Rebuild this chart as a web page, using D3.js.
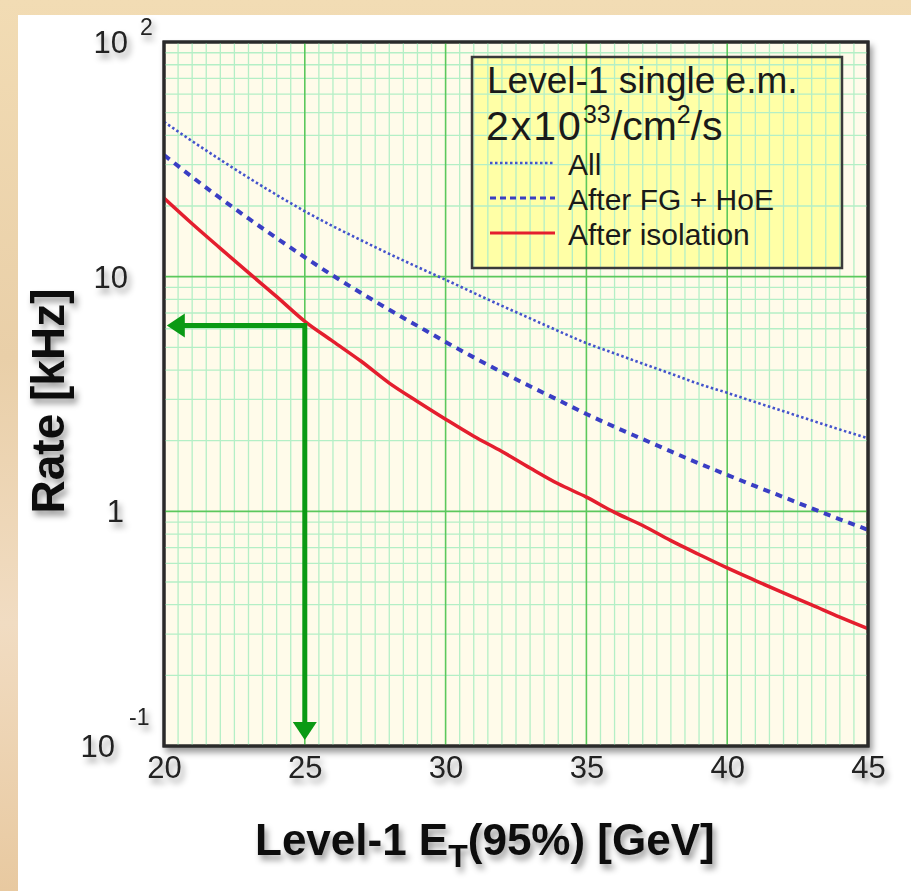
<html>
  <head>
    <meta charset="utf-8" />
    <script src="https://d3js.org/d3.v7.min.js"></script>
    <style>
      body { margin: 0; background: #efd9b6; }
      svg { display: block; }
    </style>
  </head>
  <body>
    <div class="container"></div>
  </body>
</html>

<script>
  // Level-1 ET threshold [GeV]
  const et = [20, 21, 22, 23, 24, 25, 26, 27, 28, 29, 30, 31, 32, 33, 34, 35,
              36, 37, 38, 39, 40, 41, 42, 43, 44, 45];

  // rates [kHz]
  const rateAll = [45.7, 37.8, 31.5, 26.4, 22.3, 19.0, 16.4, 14.3, 12.5, 11.0, 9.7,
                   8.53, 7.51, 6.64, 5.87, 5.21, 4.71, 4.26, 3.86, 3.49, 3.2,
                   2.92, 2.67, 2.44, 2.23, 2.05];
  const rateFgHoe = [33.0, 26.6, 21.6, 17.7, 14.6, 12.1, 10.1, 8.52, 7.23, 6.17, 5.27,
                     4.53, 3.92, 3.41, 2.98, 2.6, 2.29, 2.03, 1.8, 1.6, 1.43,
                     1.28, 1.15, 1.03, 0.925, 0.834];
  const rateIso = [21.6, 16.8, 13.2, 10.4, 8.22, 6.45, 5.3, 4.36, 3.52, 2.94, 2.47,
                   2.09, 1.8, 1.53, 1.31, 1.15, 0.99, 0.87, 0.75, 0.655, 0.574,
                   0.507, 0.449, 0.399, 0.354, 0.316];

  const xTicks = [20, 25, 30, 35, 40, 45];
  const yMajor = [1, 10];
  const yLabels = [
    { v: 100, base: "10", exp: "2" },
    { v: 10, base: "10", exp: "" },
    { v: 1, base: "1", exp: "" },
    { v: 0.1, base: "10", exp: "-1" },
  ];

  const seriesNames = ["All", "After FG + HoE", "After isolation"];

  // the 25 GeV working point marked by the green arrows
  const arrowPoint = { x: 25, y: 6.2 };
  const arrowLeftTip = 20.1;
  const arrowDownTip = 0.106;

  const width = 911;
  const height = 891;

  const svg = d3
    .select(".container")
    .append("svg")
    .attr("width", width)
    .attr("height", height)
    .attr("font-family", "'Liberation Sans', Arial, Helvetica, sans-serif");

  const defs = svg.append("defs");
  defs
    .append("filter")
    .attr("id", "shadow")
    .attr("x", "-20%")
    .attr("y", "-20%")
    .attr("width", "150%")
    .attr("height", "160%")
    .append("feDropShadow")
    .attr("dx", 3)
    .attr("dy", 5)
    .attr("stdDeviation", 3)
    .attr("flood-color", "#000")
    .attr("flood-opacity", 0.4);
  defs
    .append("clipPath")
    .attr("id", "plotclip")
    .append("rect")
    .attr("x", 164)
    .attr("y", 42)
    .attr("width", 704)
    .attr("height", 704);

  // parchment strip at the left and top, white panel
  const bg = defs
    .append("linearGradient")
    .attr("id", "parch")
    .attr("x1", 0)
    .attr("y1", 0)
    .attr("x2", 0)
    .attr("y2", 1);
  bg.append("stop").attr("offset", "0%").attr("stop-color", "#f2dcb4");
  bg.append("stop").attr("offset", "40%").attr("stop-color", "#e9cfa8");
  bg.append("stop").attr("offset", "70%").attr("stop-color", "#f1dcc2");
  bg.append("stop").attr("offset", "100%").attr("stop-color", "#e8c9a0");
  svg.append("rect").attr("width", width).attr("height", height).attr("fill", "url(#parch)");
  svg
    .append("rect")
    .attr("x", 18)
    .attr("y", 15)
    .attr("width", width - 18)
    .attr("height", height - 15)
    .attr("fill", "#ffffff");

  const x = d3.scaleLinear().domain([20, 45]).range([164, 868]);
  const y = d3.scaleLog().domain([0.1, 100]).range([746, 42]);

  // plot frame with shadow
  svg
    .append("rect")
    .attr("x", 164)
    .attr("y", 42)
    .attr("width", 704)
    .attr("height", 704)
    .attr("fill", "#fffbea")
    .attr("stroke", "#2a2a2a")
    .attr("stroke-width", 3)
    .attr("filter", "url(#shadow)");

  // legend background sits under the grid
  const legend = { x: 472, y: 57, w: 370, h: 211 };
  svg
    .append("rect")
    .attr("x", legend.x)
    .attr("y", legend.y)
    .attr("width", legend.w)
    .attr("height", legend.h)
    .attr("fill", "#ffffa6");

  const grid = svg.append("g").attr("clip-path", "url(#plotclip)");
  const xMinor = d3.range(20.5, 45, 0.5).filter((d) => d % 5 !== 0);
  const yMinor = [];
  [0.1, 1, 10].forEach((dec) => {
    for (let k = 2; k <= 9; k++) yMinor.push(dec * k);
  });

  grid
    .selectAll("line.xmin")
    .data(xMinor)
    .join("line")
    .attr("x1", (d) => x(d))
    .attr("x2", (d) => x(d))
    .attr("y1", 42)
    .attr("y2", 746)
    .attr("stroke", "#b4efc6")
    .attr("stroke-width", 1.3);

  grid
    .selectAll("line.ymin")
    .data(yMinor)
    .join("line")
    .attr("x1", 164)
    .attr("x2", 868)
    .attr("y1", (d) => y(d))
    .attr("y2", (d) => y(d))
    .attr("stroke", "#b4efc6")
    .attr("stroke-width", 1.3);

  grid
    .selectAll("line.xmaj")
    .data(xTicks.slice(1, -1))
    .join("line")
    .attr("x1", (d) => x(d))
    .attr("x2", (d) => x(d))
    .attr("y1", 42)
    .attr("y2", 746)
    .attr("stroke", "#5cc85c")
    .attr("stroke-width", 1.6);

  grid
    .selectAll("line.ymaj")
    .data(yMajor)
    .join("line")
    .attr("x1", 164)
    .attr("x2", 868)
    .attr("y1", (d) => y(d))
    .attr("y2", (d) => y(d))
    .attr("stroke", "#5cc85c")
    .attr("stroke-width", 1.6);

  // curves
  const styles = [
    { data: rateAll, color: "#4453cc", width: 2.6, dash: "2.5,2.5" },
    { data: rateFgHoe, color: "#3a3ec4", width: 4, dash: "7,6" },
    { data: rateIso, color: "#e41e2e", width: 3.5, dash: null },
  ];

  const line = d3
    .line()
    .x((d) => x(d[0]))
    .y((d) => y(d[1]))
    .curve(d3.curveMonotoneX);

  const curves = svg.append("g").attr("clip-path", "url(#plotclip)").attr("fill", "none");
  styles.forEach((s) => {
    curves
      .append("path")
      .attr("d", line(et.map((e, i) => [e, s.data[i]])))
      .attr("stroke", s.color)
      .attr("stroke-width", s.width)
      .attr("stroke-dasharray", s.dash);
  });

  // redraw the frame stroke on top
  svg
    .append("rect")
    .attr("x", 164)
    .attr("y", 42)
    .attr("width", 704)
    .attr("height", 704)
    .attr("fill", "none")
    .attr("stroke", "#2a2a2a")
    .attr("stroke-width", 3);

  // green arrows
  const green = "#0a9a14";
  const ax = x(arrowPoint.x);
  const ay = y(arrowPoint.y);
  const lx = x(arrowLeftTip);
  const by = y(arrowDownTip);
  const arrows = svg.append("g");
  arrows
    .append("path")
    .attr("d", `M${lx + 16},${ay} L${ax},${ay} L${ax},${by - 16}`)
    .attr("fill", "none")
    .attr("stroke", green)
    .attr("stroke-width", 5);
  arrows
    .append("path")
    .attr("d", `M${lx},${ay} L${lx + 18},${ay - 12} L${lx + 18},${ay + 12} Z`)
    .attr("fill", green);
  arrows
    .append("path")
    .attr("d", `M${ax},${by} L${ax - 12},${by - 18} L${ax + 12},${by - 18} Z`)
    .attr("fill", green);

  // legend frame and text
  svg
    .append("rect")
    .attr("x", legend.x)
    .attr("y", legend.y)
    .attr("width", legend.w)
    .attr("height", legend.h)
    .attr("fill", "none")
    .attr("stroke", "#3a3a3a")
    .attr("stroke-width", 2.5);

  const lg = svg.append("g").attr("fill", "#1a1a1a");
  lg.append("text")
    .attr("x", 487)
    .attr("y", 93)
    .attr("font-size", 37)
    .text("Level-1 single e.m.");
  const l2 = lg.append("text").attr("x", 486).attr("y", 140).attr("font-size", 41);
  l2.append("tspan").attr("letter-spacing", 2).text("2x10");
  l2.append("tspan").attr("dy", -17).attr("font-size", 25).text("33");
  l2.append("tspan").attr("dy", 17).text("/cm");
  l2.append("tspan").attr("dy", -17).attr("font-size", 25).text("2");
  l2.append("tspan").attr("dy", 17).text("/s");

  const entryY = [175, 210, 245];
  seriesNames.forEach((name, i) => {
    const s = styles[i];
    lg.append("line")
      .attr("x1", 490)
      .attr("x2", 555)
      .attr("y1", entryY[i] - 12)
      .attr("y2", entryY[i] - 12)
      .attr("stroke", s.color)
      .attr("stroke-width", i === 0 ? 2.4 : 3.2)
      .attr("stroke-dasharray", i === 0 ? "2.5,2.5" : i === 1 ? "6,4" : null);
    lg.append("text")
      .attr("x", 568)
      .attr("y", entryY[i])
      .attr("font-size", 30)
      .text(name);
  });

  // x tick labels
  const xAxis = svg
    .append("g")
    .attr("transform", "translate(0,746)")
    .attr("filter", "url(#shadow)")
    .call(d3.axisBottom(x).tickValues(xTicks).tickSize(0).tickPadding(10));
  xAxis.select(".domain").remove();
  xAxis
    .selectAll("text")
    .attr("font-size", 31)
    .attr("font-family", "'Liberation Sans', Arial, sans-serif")
    .attr("fill", "#222");

  // y tick labels with exponents
  const yl = svg.append("g").attr("filter", "url(#shadow)").attr("fill", "#222");
  yLabels.forEach((d) => {
    const yy = y(d.v);
    if (d.v === 100) {
      yl.append("text").attr("x", 128).attr("y", yy + 11).attr("font-size", 31)
        .attr("text-anchor", "end").text(d.base);
      yl.append("text").attr("x", 140).attr("y", yy - 7).attr("font-size", 23).text(d.exp);
    } else if (d.v === 0.1) {
      yl.append("text").attr("x", 115).attr("y", yy + 11).attr("font-size", 31)
        .attr("text-anchor", "end").text(d.base);
      yl.append("text").attr("x", 129).attr("y", yy - 21).attr("font-size", 23).text(d.exp);
    } else {
      yl.append("text").attr("x", d.v === 10 ? 128 : 124).attr("y", yy + 11)
        .attr("font-size", 31).attr("text-anchor", "end").text(d.base);
    }
  });

  // axis titles
  const titles = svg
    .append("g")
    .attr("filter", "url(#shadow)")
    .attr("font-weight", "bold")
    .attr("fill", "#111");
  titles
    .append("text")
    .attr("transform", "translate(64,401) rotate(-90)")
    .attr("text-anchor", "middle")
    .attr("font-size", 46)
    .text("Rate [kHz]");
  const xt = titles.append("text").attr("x", 255).attr("y", 855).attr("font-size", 44);
  xt.append("tspan").text("Level-1 E");
  xt.append("tspan").attr("dy", 12).attr("font-size", 32).text("T");
  xt.append("tspan").attr("dy", -12).text("(95%) [GeV]");
</script>
